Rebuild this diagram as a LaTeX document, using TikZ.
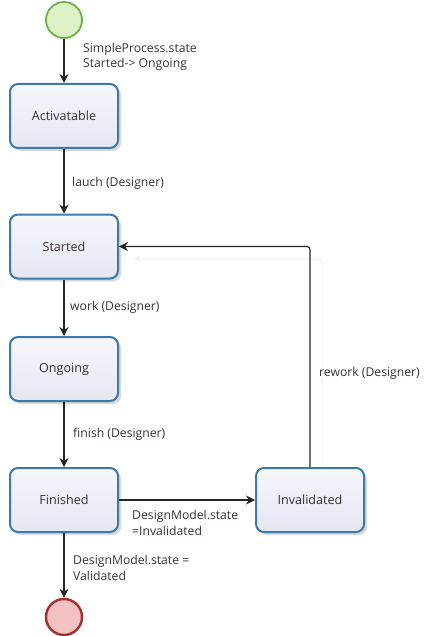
\documentclass[tikz,border=0pt]{standalone}
\usepackage{fontspec}
\setmainfont{Open Sans}
\usetikzlibrary{arrows.meta,shadows}
\definecolor{boxline}{HTML}{3B7AA6}
\definecolor{boxtop}{HTML}{F6F6FB}
\definecolor{boxbot}{HTML}{E6E6F2}
\definecolor{txt}{HTML}{3A3232}
\definecolor{startfill}{HTML}{DDF2C4}
\definecolor{startline}{HTML}{6DB04A}
\definecolor{endfill}{HTML}{F2C2C2}
\definecolor{endline}{HTML}{A33030}
\definecolor{ghost}{HTML}{F5EEEE}
\tikzset{
  statebox/.style={draw=boxline, line width=2pt, rounded corners=8pt,
    top color=boxtop, bottom color=boxbot,
    minimum width=108pt, minimum height=64pt,
    font=\fontsize{12.6}{15}\selectfont, text=txt,
    drop shadow={shadow xshift=3pt, shadow yshift=-3pt, opacity=0.25, fill=black!60}},
  initstate/.style={circle, draw=startline, line width=1.8pt, fill=startfill, minimum size=36pt, inner sep=0pt},
  finalstate/.style={circle, draw=endline, line width=2.4pt, fill=endfill, minimum size=36pt, inner sep=0pt},
  flow/.style={draw=black!85, line width=1.2pt, -{Stealth[length=9pt,width=9pt]}},
  lbl/.style={font=\fontsize{12.2}{15.5}\selectfont, text=txt, align=left, inner sep=0pt, anchor=base west}
}
\begin{document}
\begin{tikzpicture}[x=1pt,y=-1pt]
\useasboundingbox[fill=white] (0,0) rectangle (423,636);

\node[initstate] (init) at (64,20) {};
\node[statebox] (act) at (64,116) {Activatable};
\node[statebox] (started) at (64,246.5) {Started};
\node[statebox] (ongoing) at (64,369) {Ongoing};
\node[statebox] (finished) at (64,500) {Finished};
\node[statebox] (inval) at (310,500) {Invalidated};
\node[finalstate] (final) at (64,617) {};

% faint echo of the rework connector
\coordinate (gcorner) at (322,259);
\draw[ghost, line width=1pt, rounded corners=4pt, -{Stealth[length=8pt,width=7pt]}]
  (322,466) -- (gcorner) -- (133,259);

\draw[flow] (init) -- (act);
\draw[flow] (act) -- (started);
\draw[flow] (started) -- (ongoing);
\draw[flow] (ongoing) -- (finished);
\draw[flow] (finished) -- (inval);
\draw[flow] (finished) -- (final);
\draw[flow, rounded corners=3pt] (inval.north) |- (started.east);

% multi-line labels: the base anchor sits on the last line
\node[lbl] (l1) at (83,68) {SimpleProcess.state\\Started-> Ongoing};
\node[lbl] (l2) at (72,186) {lauch (Designer)};
\node[lbl] (l3) at (70,310) {work (Designer)};
\node[lbl] (l4) at (73,437) {finish (Designer)};
\node[lbl] (l5) at (319,376) {rework (Designer)};
\node[lbl] (l6) at (132,535) {DesignModel.state\\=Invalidated};
\node[lbl] (l7) at (73,580) {DesignModel.state =\\Validated};
\end{tikzpicture}
\end{document}
